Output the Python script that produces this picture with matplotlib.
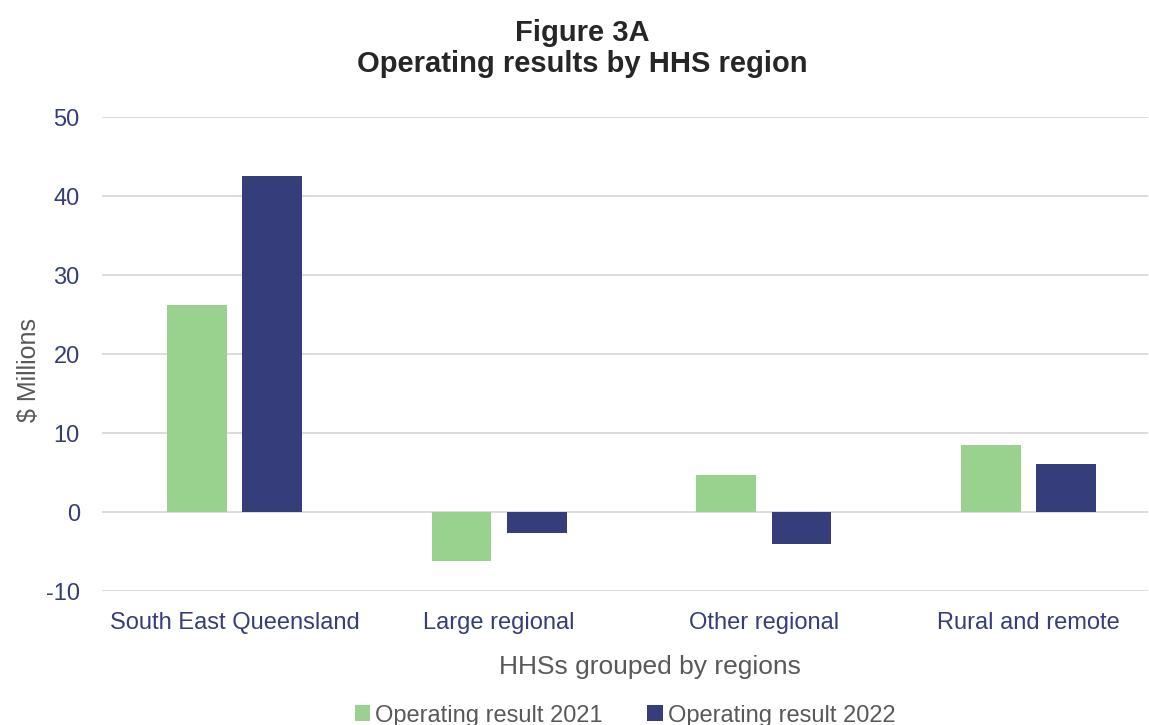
import numpy as np
import matplotlib.pyplot as plt

plt.rcParams['font.family'] = ['Liberation Sans', 'DejaVu Sans']
plt.rcParams['axes.unicode_minus'] = False

regions = ['South East Queensland', 'Large regional', 'Other regional', 'Rural and remote']
result_2021 = [26.2, -6.2, 4.7, 8.5]
result_2022 = [42.5, -2.7, -4.0, 6.1]

green = '#99D18F'
navy = '#353E7A'
grey = '#595959'

fig = plt.figure(figsize=(11.49, 7.25), dpi=100)
ax = fig.add_axes([0.0888, 0.1848, 0.9102, 0.6538])

x = np.arange(len(regions))
w = 0.226
off = 0.142
ax.bar(x - off, result_2021, w, color=green, label='Operating result 2021', zorder=3)
ax.bar(x + off, result_2022, w, color=navy, label='Operating result 2022', zorder=3)

ax.set_xlim(-0.5, 3.45)
ax.set_ylim(-10, 50)
ax.set_yticks(range(-10, 51, 10))
ax.set_xticks(x)
ax.set_xticklabels(regions)
ax.grid(axis='y', color='#D9D9D9', linewidth=1.3, zorder=0)
for s in ax.spines.values():
    s.set_visible(False)
ax.tick_params(length=0, labelsize=17, labelcolor=navy)
ax.tick_params(axis='y', pad=16)
ax.tick_params(axis='x', pad=15)

ax.set_ylabel('$ Millions', fontsize=18, color=grey)
ax.yaxis.set_label_coords(-0.058, 0.466)
ax.set_xlabel('HHSs grouped by regions', fontsize=19, color=grey)
ax.xaxis.set_label_coords(0.524, -0.135)

fig.text(0.507, 0.955, 'Figure 3A', ha='center', va='center', fontsize=21, fontweight='bold', color='#262626')
fig.text(0.507, 0.912, 'Operating results by HHS region', ha='center', va='center', fontsize=21, fontweight='bold', color='#262626')

fig.legend(loc='center', bbox_to_anchor=(0.544, 0.013), ncol=2, frameon=False,
           fontsize=17, handlelength=0.65, handleheight=0.65, handletextpad=0.2,
           columnspacing=1.9, labelcolor=grey)

fig.savefig('out.png', dpi=100)
